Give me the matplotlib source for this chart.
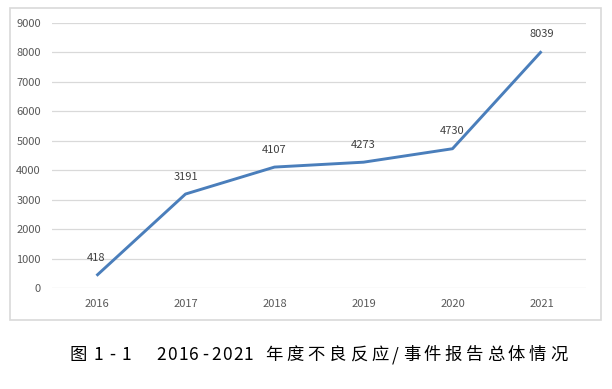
import matplotlib.pyplot as plt
from matplotlib.patches import Rectangle

plt.rcParams['font.family'] = ['Noto Sans CJK SC', 'DejaVu Sans']

# data
years = ['2016', '2017', '2018', '2019', '2020', '2021']
reports = [418, 3191, 4107, 4273, 4730, 8039]
y_ticks = list(range(0, 10000, 1000))

# caption pieces: (text, x centre of first char in px, pitch in px)
caption_parts = [('图', 78, 0), ('1-1', 98, 14), ('2016-2021', 161.5, 10.9),
                 ('年度不良反应', 273.8, 21.3), ('/', 395, 0),
                 ('事件报告总体情况', 411.5, 21)]

W, H = 612, 389
fig = plt.figure(figsize=(W / 100, H / 100), dpi=100)

# outer chart border
fig.patches.append(Rectangle((10 / W, 1 - 320 / H), 591 / W, 312 / H,
                             transform=fig.transFigure, fill=False,
                             edgecolor='#D9D9D9', linewidth=1.2))

ax = fig.add_axes([52 / W, 1 - 288 / H, 534 / W, 265 / H])
x = list(range(len(years)))
ax.plot(x, reports, color='#4A7EBB', linewidth=2.1, solid_capstyle='butt')
for xi, v in zip(x, reports):
    ax.annotate(str(v), (xi, v), xytext=(0, 9), textcoords='offset points',
                ha='center', va='bottom', fontsize=8, color='#404040')

ax.set_xlim(-0.5, len(years) - 0.5)
ax.set_ylim(0, 9000)
ax.set_yticks(y_ticks)
ax.set_xticks(x)
ax.set_xticklabels(years)
ax.grid(axis='y', color='#D9D9D9', linewidth=0.9)
ax.set_axisbelow(True)
for s in ax.spines.values():
    s.set_visible(False)
ax.tick_params(length=0, labelsize=8, labelcolor='#595959')
ax.tick_params(axis='x', pad=8)
ax.tick_params(axis='y', pad=8)

# caption, spaced out char by char like the original
for text, x0, pitch in caption_parts:
    for i, ch in enumerate(text):
        fig.text((x0 + i * pitch) / W, 1 - 355 / H, ch, ha='center',
                 va='center', fontsize=12.5, color='black')

fig.savefig('out.png', dpi=100)
